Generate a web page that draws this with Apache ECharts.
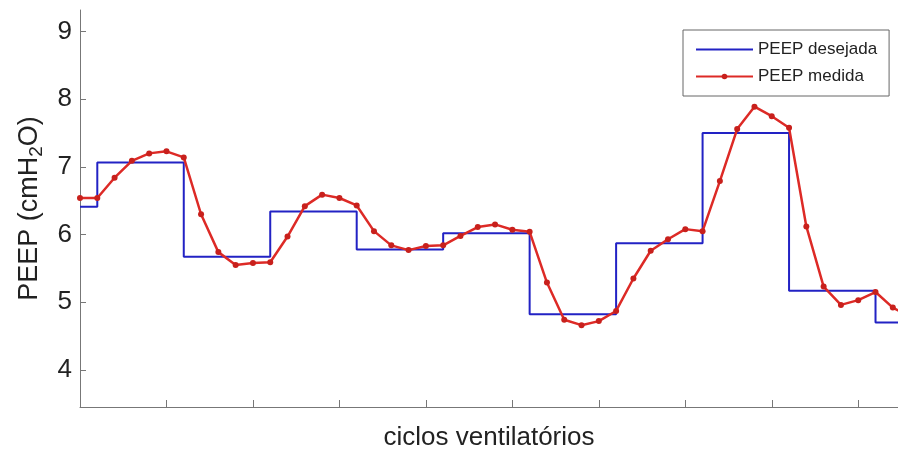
<!DOCTYPE html>
<html>
<head>
<meta charset="utf-8">
<script src="https://cdn.jsdelivr.net/npm/echarts@6/dist/echarts.min.js"></script>
<style>
html,body{margin:0;padding:0;background:#fff;}
#chart{width:898px;height:450px;}
</style>
</head>
<body>
<div id="chart"></div>
<script>
// PEEP medida: one value per ventilatory cycle (cycle 0..48)
const measuredPEEP = [6.54, 6.54, 6.84, 7.09, 7.20, 7.23, 7.14, 6.30, 5.74, 5.55,
  5.58, 5.59, 5.97, 6.42, 6.59, 6.54, 6.43, 6.05, 5.84, 5.77,
  5.83, 5.84, 5.98, 6.11, 6.15, 6.07, 6.04, 5.29, 4.74, 4.66,
  4.72, 4.87, 5.35, 5.76, 5.93, 6.08, 6.05, 6.79, 7.56, 7.89,
  7.75, 7.58, 6.12, 5.23, 4.96, 5.03, 5.15, 4.92, 4.78];
// PEEP desejada: set-point changes (cycle where it starts, value)
const setCycles = [0, 1, 6, 11, 16, 21, 26, 31, 36, 41, 46, 48];
const setValues = [6.41, 7.065, 5.67, 6.34, 5.78, 6.02, 4.82, 5.87, 7.50, 5.17, 4.70, 4.70];
const yTicks = [4, 5, 6, 7, 8, 9];
const seriesNames = ['PEEP desejada', 'PEEP medida'];
const xName = 'ciclos ventilatórios';

const FONT = "'Liberation Sans', Arial, sans-serif";
const chart = echarts.init(document.getElementById('chart'), null, {renderer: 'canvas'});

const option = {
  animation: false,
  backgroundColor: '#ffffff',
  grid: {left: 80, right: 0, top: 10, bottom: 43, containLabel: false, outerBoundsMode: 'none'},
  legend: {
    orient: 'vertical',
    left: 683,
    top: 30,
    width: 207,
    padding: [10, 12, 10, 12],
    itemWidth: 57,
    itemHeight: 7,
    itemGap: 8,
    borderColor: '#666',
    borderWidth: 1,
    backgroundColor: '#fff',
    textStyle: {fontFamily: FONT, fontSize: 17, color: '#222', lineHeight: 19},
    data: [
      {name: seriesNames[0], icon: 'path://M0,0H57V2H0Z'},
      {name: seriesNames[1]}
    ]
  },
  xAxis: {
    type: 'value',
    min: 0,
    max: 47.3,
    interval: 5,
    name: xName,
    nameLocation: 'middle',
    nameGap: 18,
    nameTextStyle: {fontFamily: FONT, fontSize: 26, color: '#222'},
    axisLine: {show: true, lineStyle: {color: '#777', width: 1}},
    axisTick: {show: true, inside: true, length: 7, lineStyle: {color: '#777'}},
    axisLabel: {show: false},
    splitLine: {show: false}
  },
  yAxis: {
    type: 'value',
    min: 3.45,
    max: 9.32,
    name: 'PEEP (cmH{sub|2}O)',
    nameLocation: 'middle',
    nameGap: 34,
    nameTextStyle: {
      fontFamily: FONT, fontSize: 27, color: '#222',
      rich: {sub: {fontFamily: FONT, fontSize: 19, color: '#222', verticalAlign: 'bottom', padding: [14, 0, 0, 0]}}
    },
    axisLine: {show: true, lineStyle: {color: '#777', width: 1}},
    axisTick: {show: true, inside: true, length: 6, lineStyle: {color: '#777'},
      customValues: yTicks},
    axisLabel: {
      fontFamily: FONT, fontSize: 26, color: '#222', margin: 8,
      customValues: yTicks
    },
    splitLine: {show: false}
  },
  series: [
    {
      name: seriesNames[0],
      type: 'line',
      step: 'end',
      data: setCycles.map((c, i) => [c, setValues[i]]),
      showSymbol: false,
      symbol: 'none',
      lineStyle: {color: '#2222c4', width: 2},
      itemStyle: {color: '#2222c4'},
      clip: true,
      z: 2
    },
    {
      name: seriesNames[1],
      type: 'line',
      data: measuredPEEP.map((v, i) => [i, v]),
      symbol: 'circle',
      symbolSize: 6,
      showSymbol: true,
      lineStyle: {color: '#dd2a26', width: 2.5},
      itemStyle: {color: '#c8201c'},
      clip: true,
      z: 3
    }
  ]
};
chart.setOption(option);
</script>
</body>
</html>
